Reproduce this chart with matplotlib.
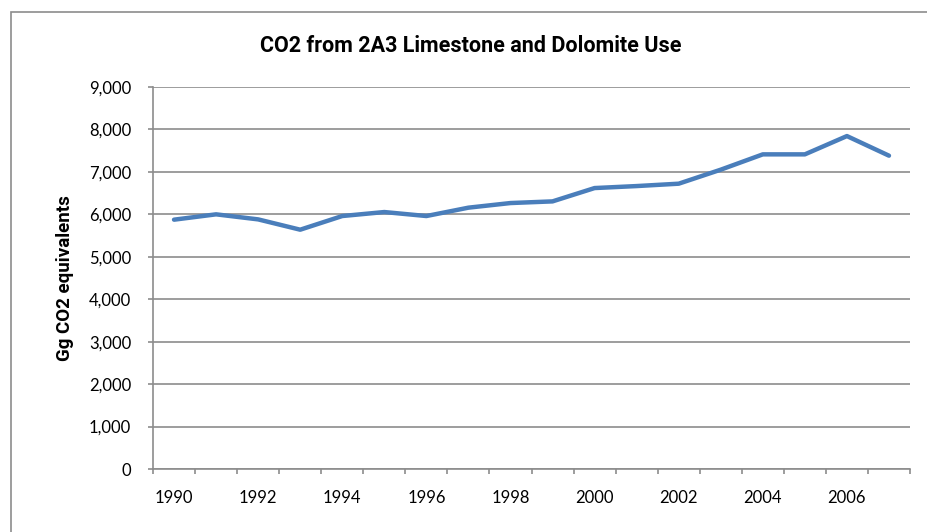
import matplotlib.pyplot as plt
from matplotlib.patches import Rectangle
from matplotlib.ticker import FuncFormatter

# --- данные ---
years = list(range(1990, 2008))
values = [5874, 6000, 5881, 5638, 5960, 6054, 5960, 6157, 6266, 6305,
          6619, 6666, 6722, 7052, 7413, 7413, 7844, 7382]
yticks = [0, 1000, 2000, 3000, 4000, 5000, 6000, 7000, 8000, 9000]

plt.rcParams['font.family'] = ['Lato', 'DejaVu Sans']

fig = plt.figure(figsize=(9.27, 5.32), dpi=100)
ax = fig.add_axes([153 / 927, 1 - 469 / 532, (910 - 153) / 927, (469 - 87) / 532])

x = list(range(len(years)))
ax.plot(x, values, color='#4A7EBB', linewidth=3.2, solid_joinstyle='round',
        solid_capstyle='round', zorder=3)

# --- оси ---
ax.set_xlim(-0.5, len(years) - 0.5)
ax.set_ylim(0, 9000)
ax.set_yticks(yticks)
ax.yaxis.set_major_formatter(FuncFormatter(lambda v, p: f"{int(v):,}"))
ax.grid(axis='y', color='#8c8c8c', linewidth=1.2, zorder=1)

ax.set_xticks([i - 0.5 for i in range(len(years) + 1)])
ax.set_xticklabels([])
ax.set_xticks(x[::2], minor=True)
ax.set_xticklabels([str(y) for y in years[::2]], minor=True)
ax.tick_params(axis='x', which='major', length=3.6, color='#8c8c8c', width=1.2)
ax.tick_params(axis='x', which='minor', length=0, pad=15, labelsize=12)
ax.tick_params(axis='y', length=3.6, color='#8c8c8c', width=1.2, labelsize=12, pad=12)

for s in ['top', 'right']:
    ax.spines[s].set_visible(False)
for s in ['left', 'bottom']:
    ax.spines[s].set_color('#8c8c8c')
    ax.spines[s].set_linewidth(1.2)

fig.text(471 / 927, 1 - 46 / 532, "CO2 from 2A3 Limestone and Dolomite Use",
         fontsize=15.5, fontweight='bold', family=['Roboto', 'DejaVu Sans'],
         ha='center', va='center')
ax.set_ylabel("Gg CO2 equivalents", fontsize=13.5, fontweight='bold',
              family=['Roboto', 'DejaVu Sans'], labelpad=11)

# рамка вокруг диаграммы
fig.patches.append(Rectangle((11 / 927, -0.1), 1.0, 1 - 12 / 532 + 0.1,
                             transform=fig.transFigure, fill=False,
                             edgecolor='#8c8c8c', linewidth=1.2))

fig.savefig("out.png", dpi=100)
